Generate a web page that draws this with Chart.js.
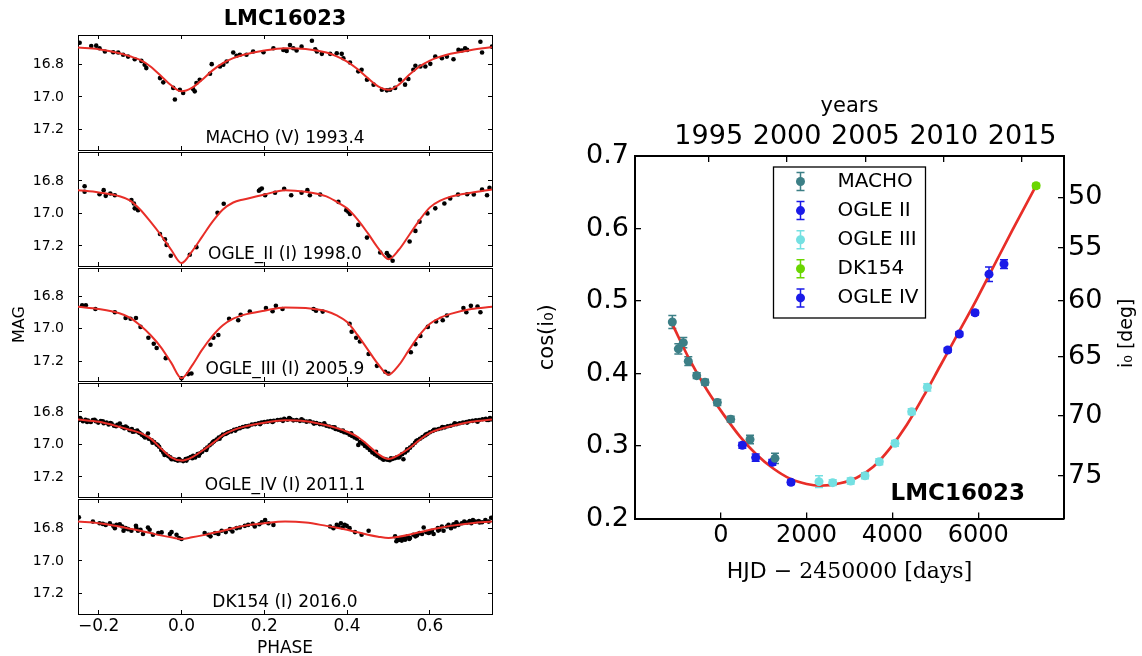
<!DOCTYPE html>
<html>
<head>
<meta charset="utf-8">
<script src="https://cdn.jsdelivr.net/npm/chart.js@4.4.1/dist/chart.umd.min.js"></script>
<style>
  body { margin: 0; background: #fff; width: 1142px; height: 656px; position: relative; overflow: hidden; }
  canvas { position: absolute; }
</style>
</head>
<body>
<canvas id="p0"></canvas>
<canvas id="p1"></canvas>
<canvas id="p2"></canvas>
<canvas id="p3"></canvas>
<canvas id="p4"></canvas>
<canvas id="right"></canvas>
<script>
// ---- left: phased light curves ----
const phaseTicks = [-0.2, 0, 0.2, 0.4, 0.6];
const magTicks = [16.8, 17.0, 17.2];
const panelNames = ['MACHO (V) 1993.4', 'OGLE_II (I) 1998.0', 'OGLE_III (I) 2005.9', 'OGLE_IV (I) 2011.1', 'DK154 (I) 2016.0'];

const modelPhase = [-0.25, -0.2, -0.15, -0.125, -0.1, -0.075, -0.05, -0.025, 0, 0.025, 0.05, 0.075, 0.1, 0.125, 0.15, 0.2, 0.25,
  0.3, 0.35, 0.375, 0.4, 0.425, 0.45, 0.475, 0.5, 0.525, 0.55, 0.575, 0.6, 0.625, 0.65, 0.7, 0.75];
const machoModel = [16.699, 16.709, 16.733, 16.752, 16.774, 16.814, 16.871, 16.929, 16.966, 16.945, 16.895, 16.838, 16.794, 16.763, 16.743, 16.717, 16.703,
  16.707, 16.729, 16.752, 16.784, 16.830, 16.885, 16.935, 16.956, 16.925, 16.865, 16.814, 16.778, 16.754, 16.737, 16.713, 16.697];
const ogle2Model = [16.857, 16.871, 16.894, 16.920, 16.976, 17.051, 17.133, 17.224, 17.306, 17.235, 17.143, 17.051, 16.976, 16.933, 16.914, 16.884, 16.857,
  16.867, 16.895, 16.929, 16.969, 17.037, 17.122, 17.214, 17.282, 17.224, 17.133, 17.041, 16.963, 16.922, 16.898, 16.873, 16.853];
const ogle3Model = [16.863, 16.877, 16.903, 16.930, 16.978, 17.038, 17.113, 17.210, 17.307, 17.230, 17.129, 17.044, 16.978, 16.937, 16.913, 16.887, 16.867,
  16.871, 16.891, 16.917, 16.958, 17.038, 17.129, 17.220, 17.285, 17.226, 17.129, 17.038, 16.968, 16.931, 16.907, 16.877, 16.863];
const ogle4Model = [16.847, 16.861, 16.892, 16.910, 16.929, 16.963, 17.024, 17.080, 17.100, 17.080, 17.039, 16.994, 16.943, 16.912, 16.892, 16.867, 16.851,
  16.857, 16.882, 16.900, 16.922, 16.953, 17.004, 17.059, 17.090, 17.065, 17.024, 16.973, 16.929, 16.905, 16.888, 16.861, 16.847];
const dk154Model = [16.760, 16.770, 16.790, 16.803, 16.816, 16.830, 16.844, 16.856, 16.866, 16.856, 16.844, 16.830, 16.816, 16.800, 16.786, 16.770, 16.760,
  16.766, 16.786, 16.797, 16.810, 16.825, 16.840, 16.852, 16.860, 16.852, 16.840, 16.825, 16.810, 16.797, 16.786, 16.770, 16.760];

const machoPts = [[-0.246, 16.669], [-0.218, 16.689], [-0.206, 16.687], [-0.198, 16.703], [-0.185, 16.723], [-0.165, 16.727], [-0.153, 16.729],
  [-0.141, 16.743], [-0.129, 16.754], [-0.113, 16.770], [-0.097, 16.780], [-0.089, 16.804], [-0.085, 16.824], [-0.052, 16.885], [-0.044, 16.911],
  [-0.020, 16.945], [-0.016, 17.016], [-0.004, 16.956], [0.004, 16.976], [0.028, 16.952], [0.032, 16.966], [0.036, 16.915], [0.044, 16.895],
  [0.069, 16.859], [0.073, 16.800], [0.093, 16.814], [0.101, 16.804], [0.109, 16.784], [0.125, 16.729], [0.133, 16.749], [0.141, 16.743],
  [0.157, 16.743], [0.173, 16.723], [0.198, 16.727], [0.222, 16.703], [0.246, 16.713], [0.254, 16.719], [0.262, 16.683], [0.270, 16.703],
  [0.278, 16.717], [0.290, 16.693], [0.315, 16.657], [0.323, 16.709], [0.327, 16.723], [0.339, 16.737], [0.359, 16.737], [0.375, 16.733],
  [0.387, 16.737], [0.391, 16.764], [0.407, 16.790], [0.427, 16.844], [0.435, 16.834], [0.448, 16.895], [0.464, 16.925], [0.484, 16.956],
  [0.496, 16.960], [0.504, 16.956], [0.516, 16.945], [0.528, 16.895], [0.540, 16.925], [0.548, 16.891], [0.560, 16.834], [0.565, 16.810],
  [0.577, 16.814], [0.589, 16.814], [0.601, 16.798], [0.613, 16.754], [0.629, 16.764], [0.641, 16.754], [0.657, 16.770], [0.669, 16.713],
  [0.677, 16.717], [0.685, 16.703], [0.690, 16.713], [0.722, 16.663], [0.726, 16.729], [0.750, 16.693]];

const ogle2Pts = [[-0.234, 16.833], [-0.234, 16.867], [-0.198, 16.882], [-0.188, 16.857], [-0.183, 16.892], [-0.172, 16.878], [-0.161, 16.888],
  [-0.121, 16.918], [-0.115, 16.939], [-0.113, 16.969], [-0.105, 16.980], [-0.052, 17.127], [-0.040, 17.159], [-0.036, 17.194], [-0.026, 17.261],
  [0.020, 17.255], [0.036, 17.208], [0.087, 16.996], [0.102, 16.941], [0.187, 16.861], [0.190, 16.853], [0.194, 16.847], [0.202, 16.888],
  [0.226, 16.873], [0.248, 16.849], [0.265, 16.888], [0.290, 16.873], [0.304, 16.857], [0.310, 16.888], [0.335, 16.884], [0.379, 16.929],
  [0.398, 16.980], [0.403, 16.990], [0.407, 17.004], [0.427, 17.071], [0.448, 17.149], [0.480, 17.241], [0.496, 17.245], [0.500, 17.261],
  [0.504, 17.271], [0.510, 17.292], [0.551, 17.173], [0.565, 17.108], [0.575, 17.051], [0.594, 17.000], [0.613, 16.969], [0.635, 16.939],
  [0.649, 16.908], [0.668, 16.884], [0.690, 16.882], [0.706, 16.884], [0.726, 16.853], [0.738, 16.888], [0.744, 16.843]];

const ogle3Pts = [[-0.240, 16.853], [-0.231, 16.853], [-0.208, 16.877], [-0.161, 16.897], [-0.135, 16.933], [-0.123, 16.937], [-0.110, 16.933],
  [-0.099, 16.988], [-0.080, 17.055], [-0.067, 17.093], [-0.060, 17.119], [-0.038, 17.182], [0.000, 17.307], [0.016, 17.281], [0.024, 17.277],
  [0.070, 17.099], [0.077, 17.055], [0.089, 17.038], [0.115, 16.937], [0.137, 16.947], [0.143, 16.913], [0.165, 16.893], [0.204, 16.871],
  [0.220, 16.891], [0.228, 16.857], [0.244, 16.877], [0.319, 16.877], [0.325, 16.887], [0.341, 16.893], [0.406, 16.968], [0.411, 17.018],
  [0.422, 17.055], [0.431, 17.079], [0.452, 17.156], [0.472, 17.230], [0.492, 17.267], [0.500, 17.277], [0.554, 17.145], [0.565, 17.095],
  [0.577, 17.044], [0.595, 16.988], [0.615, 16.954], [0.631, 16.947], [0.641, 16.917], [0.681, 16.871], [0.688, 16.897], [0.699, 16.857],
  [0.715, 16.861], [0.722, 16.897]];

const ogle4Pts = [[-0.248, 16.850], [-0.243, 16.845], [-0.238, 16.858], [-0.232, 16.848], [-0.226, 16.853], [-0.219, 16.862], [-0.214, 16.850],
  [-0.207, 16.857], [-0.201, 16.866], [-0.195, 16.856], [-0.188, 16.870], [-0.181, 16.866], [-0.176, 16.878], [-0.169, 16.872], [-0.163, 16.885],
  [-0.155, 16.880], [-0.149, 16.871], [-0.143, 16.893], [-0.138, 16.900], [-0.131, 16.898], [-0.126, 16.912], [-0.120, 16.905], [-0.114, 16.920],
  [-0.107, 16.915], [-0.101, 16.930], [-0.096, 16.940], [-0.091, 16.950], [-0.081, 16.933], [-0.079, 16.965], [-0.072, 16.975], [-0.066, 16.985],
  [-0.060, 17.000], [-0.054, 17.015], [-0.049, 17.035], [-0.044, 17.050], [-0.038, 17.060], [-0.032, 17.072], [-0.027, 17.080], [-0.021, 17.090],
  [-0.015, 17.095], [-0.009, 17.100], [-0.003, 17.098], [0.004, 17.103], [0.010, 17.090], [0.016, 17.085], [0.022, 17.078], [0.028, 17.070],
  [0.033, 17.080], [0.039, 17.060], [0.045, 17.055], [0.050, 17.045], [0.057, 17.030], [0.062, 17.020], [0.068, 17.005], [0.073, 16.995],
  [0.079, 16.980], [0.085, 16.970], [0.090, 16.958], [0.096, 16.950], [0.100, 16.940], [0.107, 16.935], [0.113, 16.925], [0.120, 16.920],
  [0.127, 16.910], [0.134, 16.905], [0.141, 16.900], [0.148, 16.893], [0.155, 16.888], [0.163, 16.885], [0.170, 16.878], [0.178, 16.875],
  [0.186, 16.870], [0.193, 16.866], [0.200, 16.862], [0.208, 16.860], [0.215, 16.856], [0.223, 16.855], [0.232, 16.850], [0.240, 16.848],
  [0.248, 16.843], [0.256, 16.848], [0.263, 16.842], [0.270, 16.852], [0.278, 16.850], [0.286, 16.855], [0.294, 16.853], [0.302, 16.860],
  [0.310, 16.858], [0.318, 16.865], [0.326, 16.868], [0.334, 16.875], [0.342, 16.878], [0.350, 16.885], [0.357, 16.890], [0.365, 16.895],
  [0.372, 16.905], [0.379, 16.910], [0.386, 16.918], [0.393, 16.925], [0.400, 16.930], [0.406, 16.940], [0.412, 16.948], [0.418, 16.958],
  [0.424, 16.965], [0.427, 17.004], [0.431, 16.985], [0.437, 16.995], [0.443, 17.010], [0.449, 17.020], [0.455, 17.035], [0.461, 17.050],
  [0.467, 17.060], [0.473, 17.070], [0.479, 17.080], [0.485, 17.088], [0.491, 17.090], [0.497, 17.095], [0.503, 17.098], [0.509, 17.090],
  [0.515, 17.085], [0.520, 17.080], [0.527, 17.075], [0.533, 17.060], [0.536, 17.092], [0.540, 17.050], [0.546, 17.038], [0.552, 17.020],
  [0.558, 17.005], [0.564, 16.990], [0.570, 16.975], [0.576, 16.965], [0.582, 16.955], [0.588, 16.945], [0.594, 16.935], [0.600, 16.925],
  [0.607, 16.918], [0.614, 16.910], [0.621, 16.905], [0.628, 16.900], [0.636, 16.895], [0.643, 16.888], [0.650, 16.885], [0.658, 16.878],
  [0.665, 16.875], [0.672, 16.870], [0.680, 16.865], [0.688, 16.862], [0.695, 16.858], [0.703, 16.855], [0.711, 16.852], [0.719, 16.850],
  [0.727, 16.845], [0.735, 16.843], [0.742, 16.850], [0.748, 16.845],
  [-0.245, 16.838], [-0.228, 16.862], [-0.210, 16.848], [-0.190, 16.858], [-0.172, 16.868], [-0.158, 16.888], [-0.135, 16.890], [-0.118, 16.922],
  [-0.104, 16.925], [-0.088, 16.958], [-0.070, 16.990], [-0.057, 17.005], [-0.041, 17.065], [-0.024, 17.092], [-0.006, 17.090], [0.012, 17.100],
  [0.026, 17.085], [0.042, 17.070], [0.060, 17.035], [0.076, 16.985], [0.092, 16.965], [0.110, 16.930], [0.130, 16.915], [0.160, 16.890],
  [0.190, 16.875], [0.220, 16.862], [0.245, 16.855], [0.260, 16.838], [0.290, 16.845], [0.320, 16.872], [0.345, 16.870], [0.370, 16.895],
  [0.390, 16.915], [0.410, 16.932], [0.440, 16.995], [0.470, 17.045], [0.488, 17.095], [0.506, 17.085], [0.525, 17.080], [0.545, 17.030],
  [0.567, 16.980], [0.590, 16.940], [0.610, 16.910], [0.630, 16.893], [0.660, 16.870], [0.690, 16.866], [0.715, 16.860], [0.738, 16.850],
  [0.745, 16.838]];

const dk154Pts = [[-0.248, 16.734], [-0.214, 16.760], [-0.198, 16.770], [-0.190, 16.774], [-0.183, 16.780], [-0.173, 16.770], [-0.165, 16.786],
  [-0.161, 16.800], [-0.157, 16.780], [-0.149, 16.776], [-0.143, 16.790], [-0.140, 16.816], [-0.135, 16.800], [-0.129, 16.806], [-0.121, 16.816],
  [-0.110, 16.786], [-0.109, 16.800], [-0.105, 16.816], [-0.099, 16.810], [-0.093, 16.836], [-0.081, 16.796], [-0.077, 16.810], [-0.069, 16.840],
  [-0.056, 16.830], [-0.048, 16.826], [-0.028, 16.836], [-0.024, 16.824], [-0.012, 16.840], [-0.006, 16.860], [0.000, 16.866],
  [0.056, 16.830], [0.065, 16.840], [0.070, 16.850], [0.081, 16.830], [0.089, 16.836], [0.097, 16.816], [0.107, 16.824], [0.117, 16.806],
  [0.123, 16.820], [0.133, 16.800], [0.141, 16.796], [0.153, 16.786], [0.161, 16.780], [0.172, 16.774], [0.177, 16.790], [0.188, 16.776],
  [0.194, 16.764], [0.202, 16.750], [0.210, 16.770], [0.222, 16.780],
  [0.359, 16.790], [0.367, 16.800], [0.375, 16.780], [0.379, 16.790], [0.385, 16.770], [0.389, 16.796], [0.394, 16.780], [0.399, 16.786],
  [0.406, 16.800], [0.419, 16.824], [0.435, 16.840], [0.452, 16.816],
  [0.516, 16.850], [0.519, 16.880], [0.522, 16.870], [0.525, 16.872], [0.528, 16.860], [0.532, 16.876], [0.536, 16.856], [0.538, 16.866],
  [0.540, 16.870], [0.546, 16.850], [0.550, 16.866], [0.552, 16.860], [0.560, 16.840], [0.565, 16.850], [0.569, 16.844], [0.575, 16.830],
  [0.581, 16.836], [0.585, 16.796], [0.591, 16.824], [0.597, 16.830], [0.600, 16.825], [0.605, 16.816], [0.609, 16.836], [0.619, 16.800],
  [0.620, 16.815], [0.623, 16.810], [0.629, 16.790], [0.633, 16.816], [0.641, 16.790], [0.645, 16.780], [0.651, 16.800], [0.657, 16.776],
  [0.660, 16.790], [0.664, 16.764], [0.669, 16.780], [0.677, 16.770], [0.683, 16.760], [0.690, 16.766], [0.696, 16.756], [0.700, 16.770],
  [0.704, 16.750], [0.710, 16.760], [0.718, 16.756], [0.720, 16.765], [0.726, 16.764], [0.734, 16.750], [0.742, 16.760], [0.748, 16.736]];

const panelPts = [machoPts, ogle2Pts, ogle3Pts, ogle4Pts, dk154Pts];
const panelModels = [machoModel, ogle2Model, ogle3Model, ogle4Model, dk154Model];

// ---- right: inclination evolution ----
const hjdTicks = [0, 2000, 4000, 6000];
const cosTicks = [0.2, 0.3, 0.4, 0.5, 0.6, 0.7];
const yearTicks = [1995, 2000, 2005, 2010, 2015];
const degTicks = [50, 55, 60, 65, 70, 75];

const machoT = [-1130, -990, -874, -758, -562, -368, -81, 230, 681, 1263];
const machoC = [0.471, 0.434, 0.4425, 0.417, 0.397, 0.388, 0.360, 0.337, 0.309, 0.283];
const machoE = [0.009, 0.007, 0.007, 0.006, 0.004, 0.004, 0.004, 0.004, 0.006, 0.007];
const ogle2T = [502, 813, 1201, 1636];
const ogle2C = [0.301, 0.284, 0.2775, 0.250];
const ogle2E = [0.004, 0.005, 0.004, 0.003];
const ogle3T = [2289, 2608, 3028, 3361, 3695, 4061, 4450, 4814];
const ogle3C = [0.2508, 0.2494, 0.2517, 0.259, 0.2783, 0.3037, 0.3473, 0.381];
const ogle3E = [0.008, 0.004, 0.004, 0.004, 0.004, 0.004, 0.004, 0.005];
const dk154T = [7350];
const dk154C = [0.659];
const dk154E = [0.003];
const ogle4T = [5289, 5560, 5926, 6252, 6601];
const ogle4C = [0.4324, 0.4545, 0.4838, 0.537, 0.551];
const ogle4E = [0.003, 0.003, 0.003, 0.010, 0.006];

const fitT = [-1130, -718, -329, 58, 448, 837, 1224, 1613, 2002, 2312, 2779, 3168, 3555, 3944, 4333, 4720, 5110, 5499, 5886, 6300, 6800, 7350];
const fitC = [0.468, 0.418, 0.378, 0.344, 0.313, 0.288, 0.269, 0.255, 0.2476, 0.2452, 0.2486, 0.2563, 0.2714, 0.2968, 0.329, 0.368, 0.410,
  0.452, 0.4935, 0.541, 0.598, 0.659];

const FONT = "'DejaVu Sans', sans-serif";
const RED = 'rgb(232,46,40)';
Chart.defaults.font.family = FONT;
Chart.defaults.color = '#000';

const fmtPhase = v => (v < -1e-9 ? '\u2212' : '') + Math.abs(v).toFixed(1);
const hjdOfYear = y => 1544.5 + (y - 2000) * 365.25;

// fix an axis box size and drop the label overhang padding Chart.js adds
function fitBox(prop, size) {
  return s => {
    s[prop] = size;
    s.paddingTop = s.paddingBottom = s.paddingLeft = s.paddingRight = 0;
  };
}

function panelLabel(text) {
  return {
    id: 'panelLabel',
    afterDraw(chart) {
      const { ctx, chartArea, scales } = chart;
      ctx.save();
      ctx.font = '17px ' + FONT;
      ctx.fillStyle = '#000';
      ctx.textAlign = 'center';
      ctx.textBaseline = 'middle';
      ctx.fillText(text, scales.x.getPixelForValue(0.25), chartArea.bottom - 11);
      ctx.restore();
    }
  };
}

const edges = [35, 151, 267, 382, 498, 614];

panelPts.forEach((pts, i) => {
  const top = i === 0 ? 0 : edges[i] - 3;
  const bottom = i === 4 ? 656 : edges[i + 1] + 3;
  const cv = document.getElementById('p' + i);
  cv.width = 500;
  cv.height = bottom - top;
  cv.style.left = '0px';
  cv.style.top = top + 'px';

  const tickGrid = { drawOnChartArea: false, drawTicks: true, tickLength: -4, color: '#000', lineWidth: 1 };
  const border = { display: true, color: '#000', width: 1 };

  new Chart(cv, {
    type: 'scatter',
    data: {
      datasets: [
        {
          type: 'line',
          data: modelPhase.map((p, k) => ({ x: p, y: panelModels[i][k] })),
          borderColor: RED, borderWidth: 2, pointRadius: 0,
          cubicInterpolationMode: 'monotone', fill: false, order: 0
        },
        {
          type: 'scatter',
          data: pts.map(p => ({ x: p[0], y: p[1] })),
          backgroundColor: '#000', borderWidth: 0, pointRadius: 2.3, order: 1
        }
      ]
    },
    options: {
      responsive: false, devicePixelRatio: 1, animation: false,
      layout: { padding: { left: 0, right: 8, top: i === 0 ? 0 : 3, bottom: i === 4 ? 0 : 3 } },
      plugins: { legend: { display: false }, tooltip: { enabled: false } },
      scales: {
        x: {
          type: 'linear', position: 'bottom', min: -0.25, max: 0.75,
          afterBuildTicks: a => { a.ticks = phaseTicks.map(v => ({ value: v })); },
          afterFit: fitBox('height', i === 4 ? 42 : 0),
          grid: tickGrid, border,
          ticks: { display: i === 4, font: { size: 17 }, padding: 6.5, maxRotation: 0, callback: v => fmtPhase(v) },
          title: { display: i === 4, text: 'PHASE', font: { size: 17, lineHeight: 0.9 }, padding: 0 }
        },
        x2: {
          type: 'linear', position: 'top', min: -0.25, max: 0.75,
          afterBuildTicks: a => { a.ticks = phaseTicks.map(v => ({ value: v })); },
          afterFit: fitBox('height', i === 0 ? 35 : 0),
          grid: tickGrid, border,
          ticks: { display: false },
          title: { display: i === 0, text: 'LMC16023', font: { size: 21, weight: 'bold' }, padding: { top: 7, bottom: 0 } }
        },
        y: {
          type: 'linear', position: 'left', reverse: true, min: 16.622, max: 17.324,
          afterBuildTicks: a => { a.ticks = magTicks.map(v => ({ value: v })); },
          afterFit: fitBox('width', 78),
          grid: tickGrid, border,
          ticks: { font: { size: 14 }, padding: 18, callback: v => v.toFixed(1) },
          title: { display: i === 2, text: 'MAG', font: { size: 16 }, padding: { top: 10, bottom: 0 } }
        },
        y2: {
          type: 'linear', position: 'right', reverse: true, min: 16.622, max: 17.324,
          afterBuildTicks: a => { a.ticks = magTicks.map(v => ({ value: v })); },
          afterFit: fitBox('width', 0),
          grid: tickGrid, border,
          ticks: { display: false }
        }
      }
    },
    plugins: [panelLabel(panelNames[i])]
  });
});

// ---- right chart ----
const series = [
  { label: 'MACHO', t: machoT, c: machoC, e: machoE, color: '#3c7f86' },
  { label: 'OGLE II', t: ogle2T, c: ogle2C, e: ogle2E, color: '#1a1ae8' },
  { label: 'OGLE III', t: ogle3T, c: ogle3C, e: ogle3E, color: '#74e0e2' },
  { label: 'DK154', t: dk154T, c: dk154C, e: dk154E, color: '#6ad600' },
  { label: 'OGLE IV', t: ogle4T, c: ogle4C, e: ogle4E, color: '#1a1ae8' }
];

const errorBars = {
  id: 'errorBars',
  beforeDatasetsDraw(chart) {
    const { ctx } = chart;
    const ys = chart.scales.y;
    chart.data.datasets.forEach((ds, di) => {
      if (!ds.err) return;
      const meta = chart.getDatasetMeta(di);
      ctx.save();
      ctx.strokeStyle = ds.borderColor;
      ctx.lineWidth = 1.5;
      meta.data.forEach((pt, k) => {
        const v = ds.data[k].y, e = ds.err[k];
        const y1 = ys.getPixelForValue(v - e), y2 = ys.getPixelForValue(v + e);
        ctx.beginPath();
        ctx.moveTo(pt.x, y1); ctx.lineTo(pt.x, y2);
        ctx.moveTo(pt.x - 4, y1); ctx.lineTo(pt.x + 4, y1);
        ctx.moveTo(pt.x - 4, y2); ctx.lineTo(pt.x + 4, y2);
        ctx.stroke();
      });
      ctx.restore();
    });
  }
};

const extras = {
  id: 'extras',
  afterDraw(chart) {
    const { ctx, chartArea } = chart;
    ctx.save();
    // legend box, upper centre
    const w = 152, h = 151, rowH = 29.1;
    const x0 = (chartArea.left + chartArea.right) / 2 - w / 2, y0 = chartArea.top + 11;
    ctx.fillStyle = '#fff';
    ctx.fillRect(x0, y0, w, h);
    ctx.strokeStyle = '#000';
    ctx.lineWidth = 1.3;
    ctx.strokeRect(x0, y0, w, h);
    ctx.font = '20px ' + FONT;
    ctx.textBaseline = 'middle';
    ctx.textAlign = 'left';
    series.forEach((s, k) => {
      const cy = y0 + 14.5 + k * rowH, cx = x0 + 27;
      ctx.strokeStyle = s.color;
      ctx.lineWidth = 1.5;
      ctx.beginPath();
      ctx.moveTo(cx, cy - 9); ctx.lineTo(cx, cy + 9);
      ctx.moveTo(cx - 4, cy - 9); ctx.lineTo(cx + 4, cy - 9);
      ctx.moveTo(cx - 4, cy + 9); ctx.lineTo(cx + 4, cy + 9);
      ctx.stroke();
      ctx.fillStyle = s.color;
      ctx.beginPath(); ctx.arc(cx, cy, 4.5, 0, Math.PI * 2); ctx.fill();
      ctx.fillStyle = '#000';
      ctx.fillText(s.label, x0 + 64, cy);
    });
    // object name inside the plot
    ctx.font = 'bold 23px ' + FONT;
    ctx.textAlign = 'right';
    ctx.textBaseline = 'alphabetic';
    ctx.fillText('LMC16023', chartArea.right - 39, chartArea.bottom - 19);
    // right axis title, reading upwards
    ctx.save();
    ctx.translate(chartArea.right + 63, (chartArea.top + chartArea.bottom) / 2 - 4);
    ctx.rotate(-Math.PI / 2);
    ctx.font = '19px ' + FONT;
    ctx.textAlign = 'center';
    ctx.textBaseline = 'middle';
    ctx.fillText('i\u2080 [deg]', 0, 0);
    ctx.restore();
    // bottom axis title with a serif part
    const a = 'HJD ', b = '\u2212 2450000 [days]';
    ctx.font = '22px ' + FONT;
    const wa = ctx.measureText(a).width;
    ctx.font = "22px 'DejaVu Serif', serif";
    const wb = ctx.measureText(b).width;
    const sx = (chartArea.left + chartArea.right) / 2 - (wa + wb) / 2;
    const ty = chartArea.bottom + 53.5;
    ctx.textAlign = 'left';
    ctx.textBaseline = 'middle';
    ctx.font = '22px ' + FONT;
    ctx.fillText(a, sx, ty);
    ctx.font = "22px 'DejaVu Serif', serif";
    ctx.fillText(b, sx + wa, ty);
    ctx.restore();
  }
};

const rc = document.getElementById('right');
rc.width = 622;
rc.height = 520;
rc.style.left = '520px';
rc.style.top = '80px';

const rGrid = { drawOnChartArea: false, drawTicks: true, tickLength: -6, color: '#000', lineWidth: 1.3 };
const rBorder = { display: true, color: '#000', width: 2 };

new Chart(rc, {
  type: 'scatter',
  data: {
    datasets: [
      ...series.map(s => ({
        type: 'scatter', label: s.label,
        data: s.t.map((t, k) => ({ x: t, y: s.c[k] })),
        err: s.e,
        backgroundColor: s.color, borderColor: s.color, borderWidth: 0, pointRadius: 4.5, order: 0
      })),
      {
        type: 'line', label: 'fit',
        data: fitT.map((t, k) => ({ x: t, y: fitC[k] })),
        borderColor: RED, borderWidth: 2.7, pointRadius: 0,
        cubicInterpolationMode: 'monotone', fill: false, order: 1
      }
    ]
  },
  options: {
    responsive: false, devicePixelRatio: 1, animation: false,
    layout: { padding: 0 },
    plugins: { legend: { display: false }, tooltip: { enabled: false } },
    scales: {
      x: {
        type: 'linear', position: 'bottom', min: -2000, max: 8000,
        afterBuildTicks: a => { a.ticks = hjdTicks.map(v => ({ value: v })); },
        afterFit: fitBox('height', 81.5),
        grid: rGrid, border: rBorder,
        ticks: { font: { size: 24 }, padding: 9, maxRotation: 0, callback: v => String(v) }
      },
      x2: {
        type: 'linear', position: 'top', min: -2000, max: 8000,
        afterBuildTicks: a => { a.ticks = yearTicks.map(y => ({ value: hjdOfYear(y) })); },
        afterFit: fitBox('height', 76),
        grid: rGrid, border: rBorder,
        ticks: { font: { size: 27 }, padding: 9, maxRotation: 0, callback: v => String(Math.round(2000 + (v - 1544.5) / 365.25)) },
        title: { display: true, text: 'years', font: { size: 21 }, padding: { top: 14, bottom: 0 } }
      },
      y: {
        type: 'linear', position: 'left', min: 0.2, max: 0.7,
        afterBuildTicks: a => { a.ticks = cosTicks.map(v => ({ value: v })); },
        afterFit: fitBox('width', 115),
        grid: rGrid, border: rBorder,
        ticks: { font: { size: 27 }, padding: 12, callback: v => v.toFixed(1) },
        title: { display: true, text: 'cos(i\u2080)', font: { size: 21 }, padding: { top: 15, bottom: 0 } }
      },
      y2: {
        type: 'linear', position: 'right', min: 0.2, max: 0.7,
        afterBuildTicks: a => { a.ticks = degTicks.map(d => ({ value: Math.cos(d * Math.PI / 180) })); },
        afterFit: fitBox('width', 78),
        grid: rGrid, border: rBorder,
        ticks: { font: { size: 27 }, padding: 10, callback: v => String(Math.round(Math.acos(v) * 180 / Math.PI)) }
      }
    }
  },
  plugins: [errorBars, extras]
});
</script>
</body>
</html>
